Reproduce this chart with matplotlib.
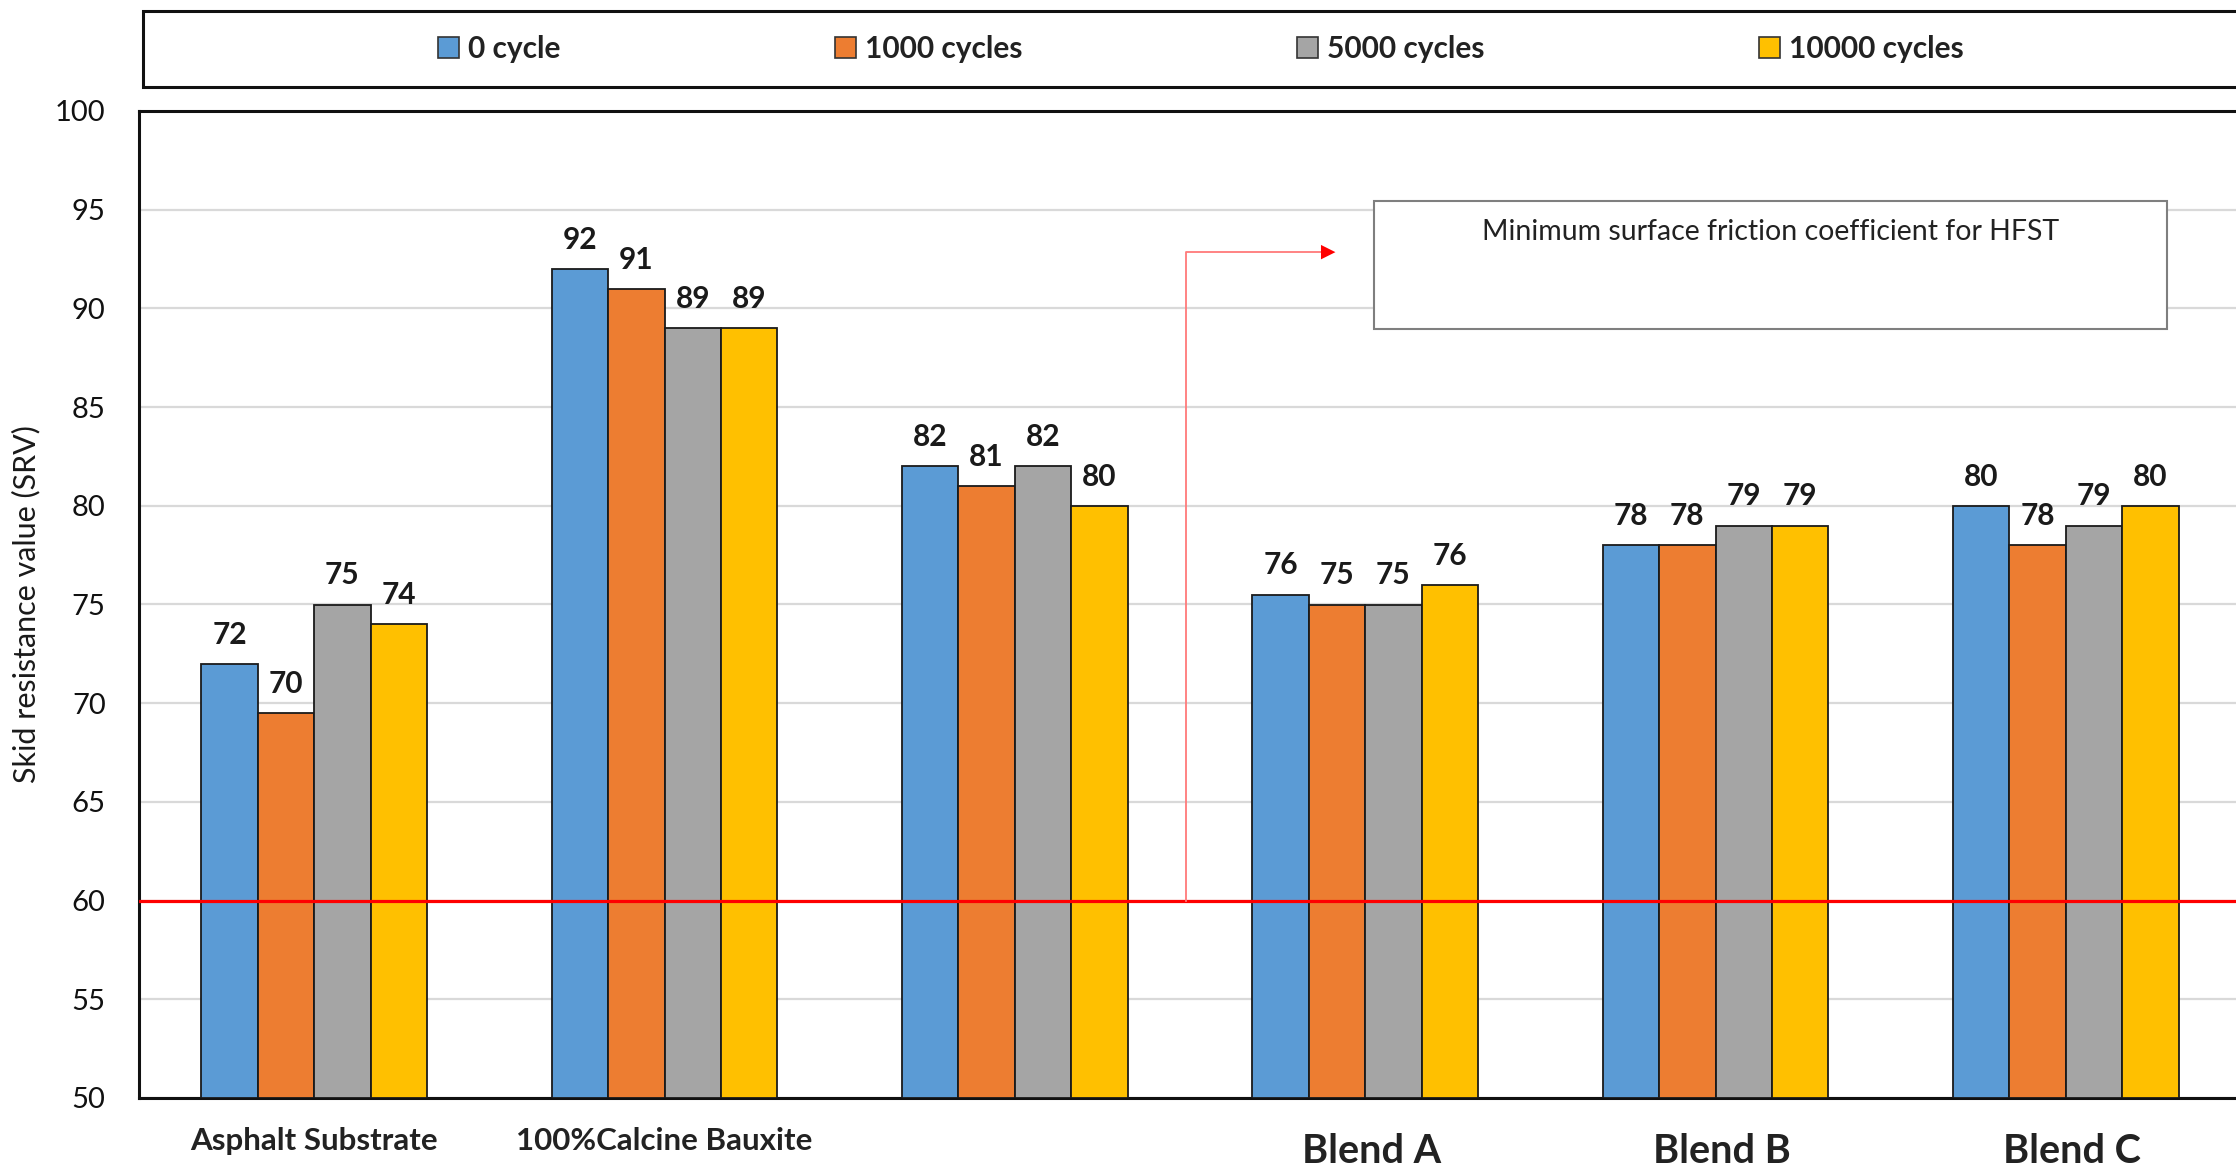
import matplotlib
matplotlib.use("Agg")
import matplotlib.pyplot as plt
from matplotlib.patches import Rectangle, Patch
import numpy as np

plt.rcParams['font.family'] = ['Lato', 'DejaVu Sans']

# ---------------- data ----------------
categories = ["Asphalt Substrate", "100%Calcine Bauxite", "", "Blend A", "Blend B", "Blend C"]
series_names = ["0 cycle", "1000 cycles", "5000 cycles", "10000 cycles"]
cycle_0 = [72, 92, 82, 75.5, 78, 80]
cycle_1000 = [69.5, 91, 81, 75, 78, 78]
cycle_5000 = [75, 89, 82, 75, 79, 79]
cycle_10000 = [74, 89, 80, 76, 79, 80]
yticks = [50, 55, 60, 65, 70, 75, 80, 85, 90, 95, 100]
threshold = 60
annotation_text = "Minimum surface friction coefficient for HFST"
y_label = "Skid resistance value (SRV)"

series = [cycle_0, cycle_1000, cycle_5000, cycle_10000]
colors = ["#5B9BD5", "#ED7D31", "#A5A5A5", "#FFC000"]

# ---------------- figure ----------------
W, H = 2236, 1173
fig = plt.figure(figsize=(W / 100, H / 100), dpi=100)
ax = fig.add_axes([139 / W, 75 / H, (2241 - 139) / W, (1098 - 111) / H])

x = np.arange(len(categories))
bw = 0.161
for i, (vals, c) in enumerate(zip(series, colors)):
    xs = x + (i - 1.5) * bw
    ax.bar(xs, [v - 50 for v in vals], bottom=50, width=bw, color=c,
           edgecolor="#1a1a1a", linewidth=1.3, zorder=3)
    for xv, v in zip(xs, vals):
        ax.annotate(f"{v:.0f}", xy=(xv, v), xytext=(0, 14.5), textcoords="offset points",
                    ha="center", va="baseline", fontsize=21.5, fontweight="bold",
                    color="#1a1a1a", zorder=5)

ax.set_xlim(-0.5, 5.5)
ax.set_ylim(50, 100)
ax.set_yticks(yticks)
ax.set_yticklabels([str(t) for t in yticks], fontsize=21, color="#111111")
ax.tick_params(axis="y", length=0, pad=24)
ax.set_xticks([])
ax.grid(axis="y", color="#D9D9D9", linewidth=1.6, zorder=0)
ax.set_axisbelow(True)
for s in ["left", "top", "bottom", "right"]:
    ax.spines[s].set_linewidth(2.2)
    ax.spines[s].set_color("#111111")

# x category labels
xtr = ax.get_xaxis_transform()
for i, lab in enumerate(categories):
    if not lab:
        continue
    if lab.startswith("Blend"):
        ax.text(x[i] + 0.018, -0.066, lab, transform=xtr, ha="center", va="baseline",
                fontsize=28.5, fontweight="bold", color="#222222")
    else:
        ax.text(x[i], -0.0527, lab, transform=xtr, ha="center", va="baseline",
                fontsize=22.5, fontweight="bold", color="#222222")

# y label
ax.text(-0.0535, 0.5, y_label, transform=ax.transAxes, rotation=90,
        ha="center", va="center", fontsize=22, color="#1a1a1a")

# threshold line
ax.axhline(threshold, color="#FF0000", linewidth=2.3, zorder=4)

# arrow from threshold to annotation box
x0, ya, x1 = 2.488, 92.85, 2.923
ax.plot([x0, x0, x1 - 0.03], [threshold, ya, ya], color="#FF7A7A", linewidth=1.3, zorder=4)
ax.annotate("", xy=(x1, ya), xytext=(x1 - 0.06, ya),
            arrowprops=dict(arrowstyle="-|>", color="#FF0000", lw=0, mutation_scale=26),
            zorder=5)

# annotation box
bx0, bx1, by0, by1 = 3.024, 5.289, 88.94, 95.45
ax.add_patch(Rectangle((bx0, by0), bx1 - bx0, by1 - by0, facecolor="white",
                       edgecolor="#7F7F7F", linewidth=1.5, zorder=5))
ax.text((bx0 + bx1) / 2, 93.85, annotation_text, ha="center", va="center",
        fontsize=20.5, color="#222222", zorder=6)

# legend
fig.patches.append(Rectangle((143 / W, (H - 87) / H), 1.2, (87 - 11) / H,
                             transform=fig.transFigure, facecolor="white",
                             edgecolor="#111111", linewidth=2.2, zorder=0))
handles = [Patch(facecolor=c, edgecolor="#333333", linewidth=1.2, label=n)
           for c, n in zip(colors, series_names)]
leg = fig.legend(handles=handles, loc="center", bbox_to_anchor=(1201 / W, (H - 49) / H),
                 ncol=4, frameon=False, prop=dict(size=21.5, weight="bold"),
                 handlelength=0.7, handleheight=0.7, handletextpad=0.3,
                 columnspacing=9.2)
for t in leg.get_texts():
    t.set_color("#222222")

fig.savefig("out.png", dpi=100)
